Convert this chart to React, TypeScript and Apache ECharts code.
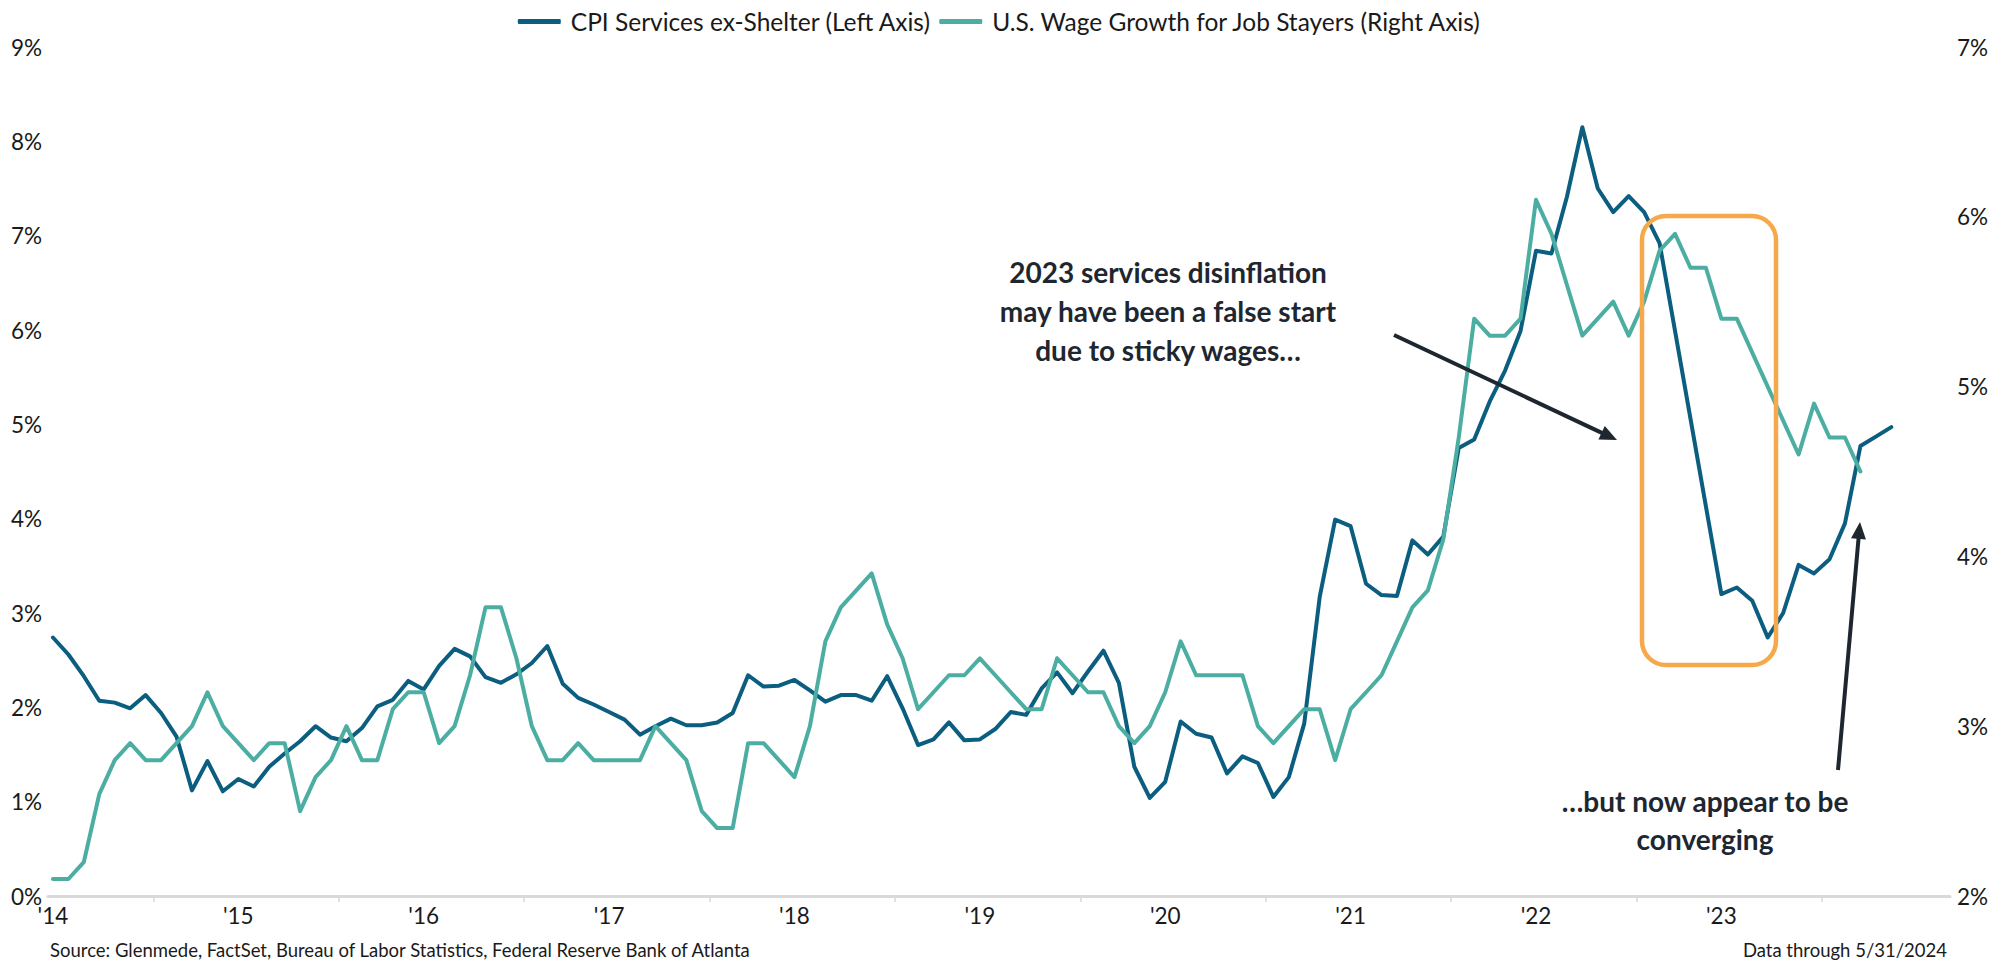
import React, { useEffect, useRef } from "react";
import * as echarts from "echarts";

// Monthly observations, June 2014 to May 2024
const START_YEAR = 2014;
const START_MONTH = 6;

// CPI Services ex-Shelter, YoY % (left axis)
const cpiServicesExShelter: number[] = [
  2.74, 2.56, 2.33, 2.07, 2.05, 1.99, 2.13, 1.94, 1.69, 1.12,
  1.43, 1.11, 1.24, 1.16, 1.37, 1.51, 1.64, 1.80, 1.68, 1.64,
  1.78, 2.01, 2.08, 2.28, 2.19, 2.44, 2.62, 2.54, 2.32, 2.26,
  2.35, 2.47, 2.65, 2.25, 2.10, 2.03, 1.95, 1.87, 1.71, 1.80,
  1.88, 1.81, 1.81, 1.84, 1.94, 2.34, 2.22, 2.23, 2.29, 2.18,
  2.06, 2.13, 2.13, 2.07, 2.33, 1.99, 1.60, 1.66, 1.84, 1.65,
  1.66, 1.77, 1.95, 1.92, 2.20, 2.37, 2.15, 2.38, 2.60, 2.26,
  1.37, 1.04, 1.21, 1.85, 1.72, 1.68, 1.30, 1.48, 1.41, 1.05,
  1.26, 1.83, 3.17, 3.99, 3.92, 3.31, 3.19, 3.18, 3.77, 3.62,
  3.81, 4.75, 4.84, 5.24, 5.57, 5.99, 6.84, 6.81, 7.41, 8.15,
  7.50, 7.25, 7.42, 7.25, 6.92, 5.99, 5.06, 4.13, 3.20, 3.27,
  3.13, 2.74, 3.00, 3.51, 3.42, 3.57, 3.95, 4.77, 4.87, 4.97,
];

// Atlanta Fed wage growth tracker, job stayers, % (right axis)
const wageGrowthJobStayers: number[] = [
  2.1, 2.1, 2.2, 2.6, 2.8, 2.9, 2.8, 2.8, 2.9, 3.0,
  3.2, 3.0, 2.9, 2.8, 2.9, 2.9, 2.5, 2.7, 2.8, 3.0,
  2.8, 2.8, 3.1, 3.2, 3.2, 2.9, 3.0, 3.3, 3.7, 3.7,
  3.4, 3.0, 2.8, 2.8, 2.9, 2.8, 2.8, 2.8, 2.8, 3.0,
  2.9, 2.8, 2.5, 2.4, 2.4, 2.9, 2.9, 2.8, 2.7, 3.0,
  3.5, 3.7, 3.8, 3.9, 3.6, 3.4, 3.1, 3.2, 3.3, 3.3,
  3.4, 3.3, 3.2, 3.1, 3.1, 3.4, 3.3, 3.2, 3.2, 3.0,
  2.9, 3.0, 3.2, 3.5, 3.3, 3.3, 3.3, 3.3, 3.0, 2.9,
  3.0, 3.1, 3.1, 2.8, 3.1, 3.2, 3.3, 3.5, 3.7, 3.8,
  4.1, 4.7, 5.4, 5.3, 5.3, 5.4, 6.1, 5.9, 5.6, 5.3,
  5.4, 5.5, 5.3, 5.5, 5.8, 5.9, 5.7, 5.7, 5.4, 5.4,
  5.2, 5.0, 4.8, 4.6, 4.9, 4.7, 4.7, 4.5,
];

const yearLabels = ["'14", "'15", "'16", "'17", "'18", "'19", "'20", "'21", "'22", "'23"];
const seriesNames = [
  "CPI Services ex-Shelter (Left Axis)",
  "U.S. Wage Growth for Job Stayers (Right Axis)",
];
const annotationTop = ["2023 services disinflation", "may have been a false start", "due to sticky wages…"];
const annotationBottom = ["…but now appear to be", "converging"];
const sourceText = "Source: Glenmede, FactSet, Bureau of Labor Statistics, Federal Reserve Bank of Atlanta";
const dataThroughText = "Data through 5/31/2024";

const C_CPI = "#0b5e7f";
const C_WAGE = "#4caea2";
const C_ORANGE = "#f5a94b";
const C_DARK = "#1e2730";
const C_AXIS = "#d9d9d9";
const FONT = "Lato, 'Noto Sans', sans-serif";

// month index helpers
const monthOf = (i: number) => ((START_MONTH - 1 + i) % 12) + 1;
const labelPositions = yearLabels.map((_, k) => k * 12); // first category of each label (June)
const tickPositions: number[] = [];
for (let i = 0; i < cpiServicesExShelter.length; i++) {
  if (monthOf(i) === 12) tickPositions.push(i + 0.5); // year boundaries
}

function arrow(x1: number, y1: number, x2: number, y2: number, color: string) {
  const dx = x2 - x1;
  const dy = y2 - y1;
  const len = Math.sqrt(dx * dx + dy * dy);
  const ux = dx / len;
  const uy = dy / len;
  const L = 17;
  const W = 15;
  const bx = x2 - ux * L;
  const by = y2 - uy * L;
  const nx = -uy;
  const ny = ux;
  return [
    {
      type: "line",
      shape: { x1, y1, x2: bx + ux * 2, y2: by + uy * 2 },
      style: { stroke: color, lineWidth: 4 },
      z: 100,
    },
    {
      type: "polygon",
      shape: {
        points: [
          [x2, y2],
          [bx + (nx * W) / 2, by + (ny * W) / 2],
          [bx - (nx * W) / 2, by - (ny * W) / 2],
        ],
      },
      style: { fill: color },
      z: 100,
    },
  ];
}

export default function App() {
  const ref = useRef<HTMLDivElement>(null);

  useEffect(() => {
    if (!ref.current) return;
    const chart = echarts.init(ref.current, undefined, { renderer: "svg" });

    const labelStyle = { fontSize: 22.5, color: "#1a1a1a", fontFamily: FONT };

    chart.setOption({
      animation: false,
      backgroundColor: "#ffffff",
      grid: { left: 48, right: 50, top: 47, bottom: 72, containLabel: false },
      legend: {
        top: 4,
        left: "center",
        itemWidth: 43,
        itemHeight: 5,
        itemGap: 8,
        icon: "roundRect",
        textStyle: { fontSize: 24.5, color: "#1a1a1a", fontFamily: FONT, padding: [0, 0, 0, 5] },
        data: seriesNames,
      },
      xAxis: {
        type: "value",
        min: -0.32,
        max: 122.8,
        axisLine: { show: true, onZero: false, lineStyle: { color: C_AXIS, width: 3 } },
        axisTick: {
          show: true,
          customValues: tickPositions,
          length: 6,
          lineStyle: { color: C_AXIS, width: 1.5 },
        },
        axisLabel: {
          ...labelStyle,
          margin: 8,
          customValues: labelPositions,
          formatter: (v: number) => yearLabels[Math.round(v / 12)] ?? "",
        },
        splitLine: { show: false },
      },
      yAxis: [
        {
          type: "value",
          position: "left",
          min: 0,
          max: 9,
          interval: 1,
          axisLine: { show: false },
          axisTick: { show: false },
          splitLine: { show: false },
          axisLabel: { ...labelStyle, margin: 6, formatter: "{value}%" },
        },
        {
          type: "value",
          position: "right",
          min: 2,
          max: 7,
          interval: 1,
          axisLine: { show: false },
          axisTick: { show: false },
          splitLine: { show: false },
          axisLabel: { ...labelStyle, margin: 7, formatter: "{value}%" },
        },
      ],
      series: [
        {
          name: seriesNames[0],
          type: "line",
          yAxisIndex: 0,
          symbol: "none",
          color: C_CPI,
          lineStyle: { width: 4, color: C_CPI, cap: "round", join: "round" },
          data: cpiServicesExShelter.map((v, i) => [i, v]),
        },
        {
          name: seriesNames[1],
          type: "line",
          yAxisIndex: 1,
          symbol: "none",
          color: C_WAGE,
          lineStyle: { width: 4, color: C_WAGE, cap: "round", join: "round" },
          data: wageGrowthJobStayers.map((v, i) => [i, v]),
        },
      ],
      graphic: [
        {
          type: "rect",
          shape: { x: 1642, y: 216, width: 134, height: 449, r: 24 },
          style: { fill: "none", stroke: C_ORANGE, lineWidth: 4.5 },
          z: 90,
        },
        ...arrow(1394, 335, 1617, 440, C_DARK),
        ...arrow(1838, 770, 1860, 522, C_DARK),
        {
          type: "text",
          x: 1168,
          y: 311,
          style: {
            text: annotationTop.join("\n"),
            fontSize: 28,
            fontWeight: "bold",
            fontFamily: FONT,
            fill: C_DARK,
            align: "center",
            verticalAlign: "middle",
            lineHeight: 39,
          },
          z: 100,
        },
        {
          type: "text",
          x: 1705,
          y: 820,
          style: {
            text: annotationBottom.join("\n"),
            fontSize: 28,
            fontWeight: "bold",
            fontFamily: FONT,
            fill: C_DARK,
            align: "center",
            verticalAlign: "middle",
            lineHeight: 38,
          },
          z: 100,
        },
        {
          type: "text",
          x: 50,
          y: 950,
          style: {
            text: sourceText,
            fontSize: 18.5,
            fontFamily: FONT,
            fill: "#1a1a1a",
            align: "left",
            verticalAlign: "middle",
          },
        },
        {
          type: "text",
          x: 1947,
          y: 950,
          style: {
            text: dataThroughText,
            fontSize: 18.5,
            fontFamily: FONT,
            fill: "#1a1a1a",
            align: "right",
            verticalAlign: "middle",
          },
        },
      ],
    });

    return () => chart.dispose();
  }, []);

  return (
    <div
      ref={ref}
      style={{ position: "fixed", left: 0, top: 0, width: 2000, height: 968, background: "#fff" }}
    />
  );
}
